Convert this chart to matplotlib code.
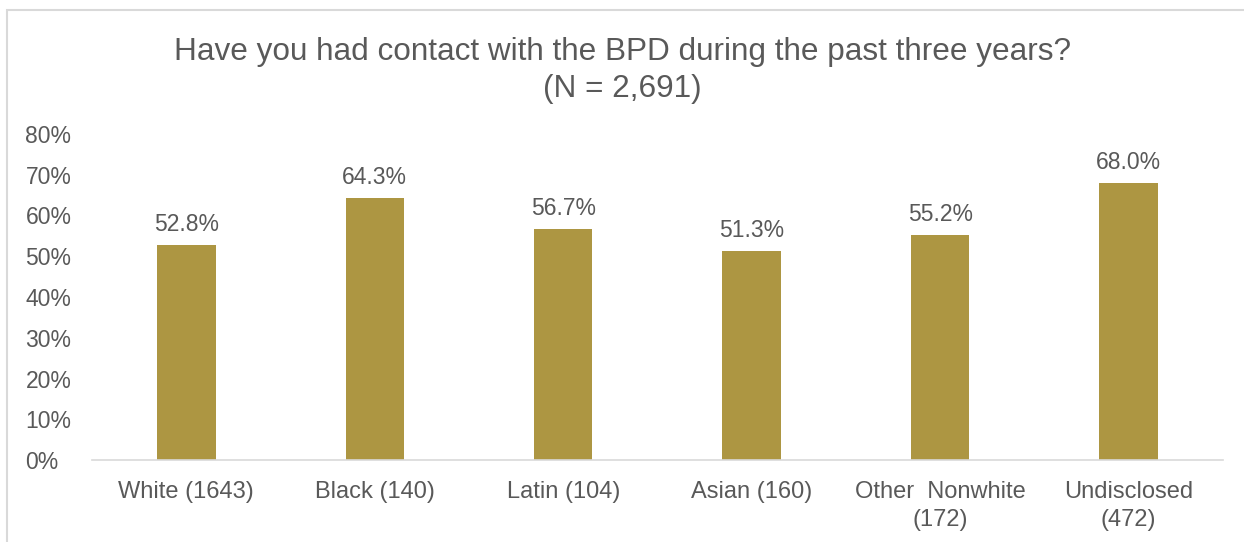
import matplotlib.pyplot as plt
from matplotlib.patches import Rectangle
from matplotlib.ticker import FuncFormatter

plt.rcParams['font.family'] = ['Liberation Sans', 'DejaVu Sans']

categories = ['White (1643)', 'Black (140)', 'Latin (104)', 'Asian (160)',
              'Other  Nonwhite\n(172)', 'Undisclosed\n(472)']
values = [52.8, 64.3, 56.7, 51.3, 55.2, 68.0]

txt = '#595959'
bar_col = '#AD9642'

fig = plt.figure(figsize=(12.44, 5.42), dpi=100)
ax = fig.add_axes([0.074, 0.151, 0.909, 0.602])

x = range(len(categories))
bars = ax.bar(x, values, width=0.31, color=bar_col)
for b, v in zip(bars, values):
    ax.text(b.get_x() + b.get_width() / 2, v + 2.2, f'{v:.1f}%',
            ha='center', va='bottom', fontsize=16.5, color=txt)

ax.set_ylim(0, 80)
ax.set_xlim(-0.5, len(categories) - 0.5)
ax.set_yticks(range(0, 81, 10))
ax.yaxis.set_major_formatter(FuncFormatter(lambda v, p: f'{v:.0f}%'))
ax.set_xticks(list(x))
ax.set_xticklabels(categories, linespacing=1.35)
ax.tick_params(axis='y', length=0, labelsize=16.5, colors=txt, pad=48)
ax.tick_params(axis='x', length=0, labelsize=17, colors=txt, pad=15)
for lab in ax.get_yticklabels():
    lab.set_horizontalalignment('left')

for s in ['top', 'right', 'left']:
    ax.spines[s].set_visible(False)
ax.spines['bottom'].set_color('#D9D9D9')
ax.spines['bottom'].set_linewidth(1.2)

fig.text(0.5, 0.87, 'Have you had contact with the BPD during the past three years?\n(N = 2,691)',
         ha='center', va='center', fontsize=22.7, color=txt, linespacing=1.3)

fig.patches.append(Rectangle((7 / 1244, -0.01), 1.0, 1 - 10 / 542 + 0.01,
                             transform=fig.transFigure, fill=False,
                             edgecolor='#D9D9D9', linewidth=1.5))

fig.savefig('out.png', dpi=100)
